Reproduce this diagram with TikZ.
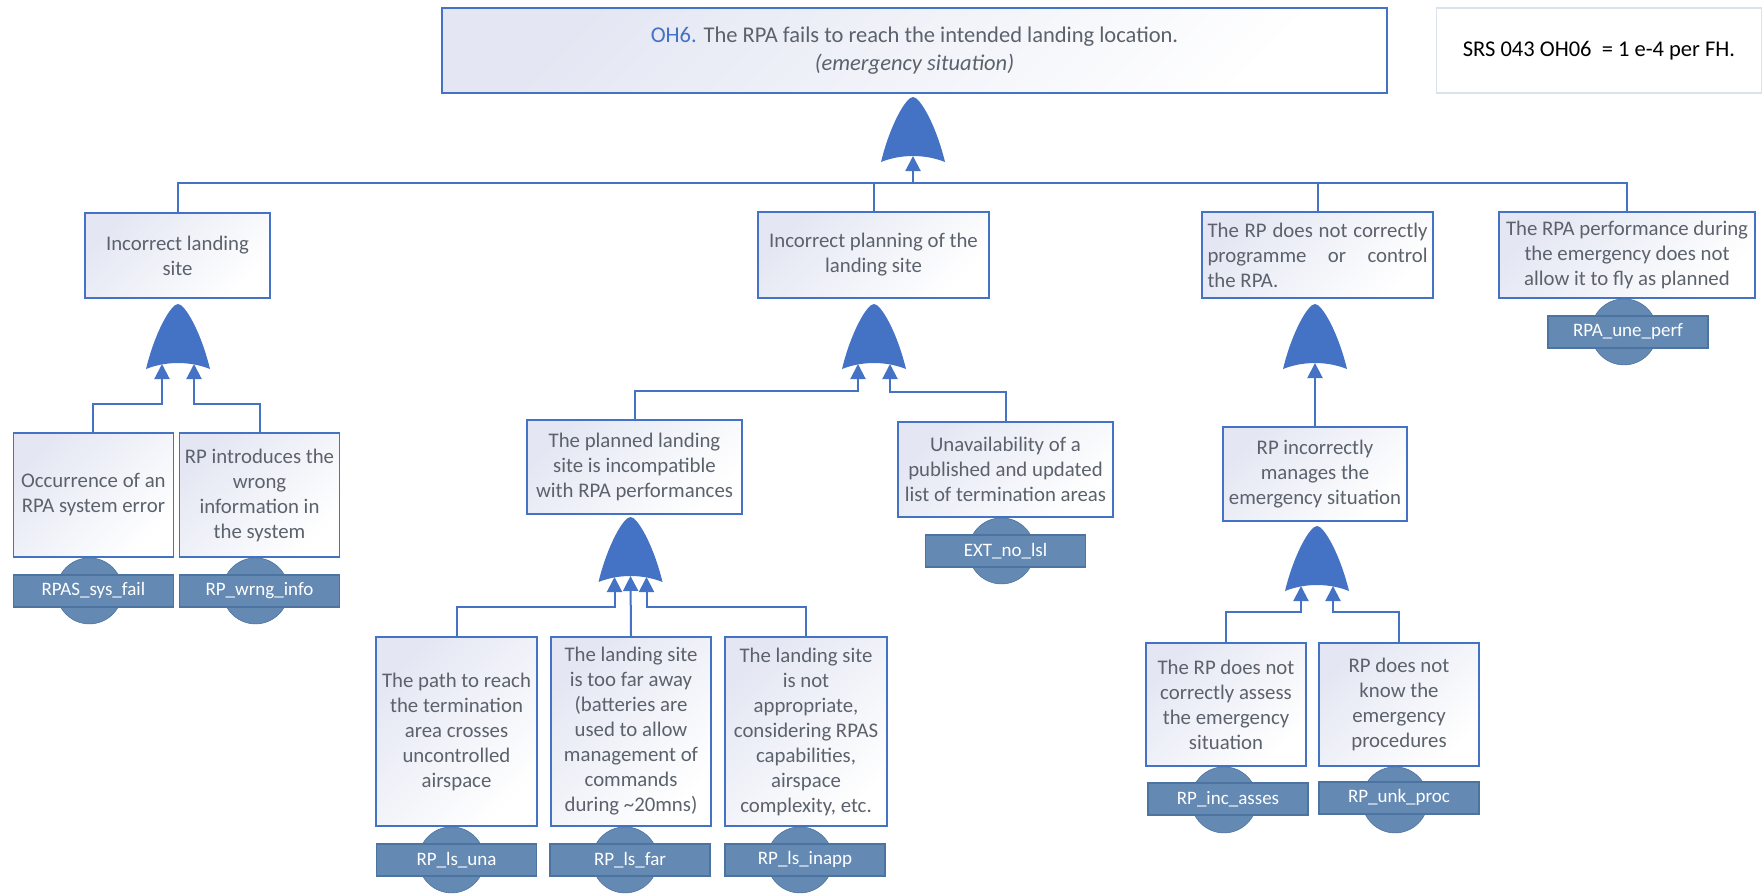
\documentclass[tikz,border=0pt]{standalone}
\usepackage{fontspec}
\setmainfont{Carlito}
\usetikzlibrary{arrows.meta,calc}

\definecolor{linkblue}{HTML}{4472C4}
\definecolor{gateblue}{HTML}{4472C4}
\definecolor{evfill}{HTML}{6489B3}
\definecolor{evline}{HTML}{4D73A0}
\definecolor{txtgray}{HTML}{5B626C}
\definecolor{tint}{HTML}{E4E7F3}
\definecolor{srsline}{HTML}{DCE2EC}

\tikzset{
  fbox/.style={draw=linkblue, line width=1.8pt, top color=tint, bottom color=white,
    shading angle=45, text=txtgray, align=center, inner sep=0pt,
    font=\fontsize{20.8}{25}\selectfont},
  wire/.style={draw=linkblue, line width=2pt},
  feed/.style={wire, -{Triangle[length=15pt,width=15pt]}},
  evcirc/.style={circle, fill=evfill, draw=evline, line width=0.6pt,
    minimum size=66pt, inner sep=0pt},
  evrect/.style={rectangle, fill=evfill, draw=evline, line width=1.2pt,
    minimum width=160pt, minimum height=32pt, inner sep=0pt, text=white,
    font=\fontsize{19}{21}\selectfont},
  orgate/.pic={
    \fill[gateblue] (-32,65) .. controls (-23,28) and (-7,0) .. (0,0)
      .. controls (7,0) and (23,28) .. (32,65)
      .. controls (12,57) and (-12,57) .. cycle;
    \coordinate (-l) at (-16,60);
    \coordinate (-c) at (0,59);
    \coordinate (-r) at (16,60);
  }
}

\begin{document}
\begin{tikzpicture}[x=1pt, y=-1pt]
\useasboundingbox (0,0) rectangle (1762,894);
\fill[white] (0,0) rectangle (1762,894);

% top event and requirement
\node[fbox, minimum width=945pt, minimum height=85pt,
  font=\fontsize{22.5}{28}\selectfont] (top) at (914.5,50.5)
  {{\color{linkblue}OH6.} The RPA fails to reach the intended landing location.\\
   \textit{(emergency situation)}};
\node[draw=srsline, line width=1.2pt, fill=white, minimum width=325pt,
  minimum height=85pt, inner sep=0pt, text=black,
  font=\fontsize{22.5}{27}\selectfont] (srs) at (1599,50.5)
  {SRS 043 OH06\ \ = 1 e-4 per FH.};

% gates
\pic (g0) at (913,97) {orgate};
\pic (gA) at (178,304) {orgate};
\pic (gB) at (874,304) {orgate};
\pic (gC) at (1315,304) {orgate};
\pic (gB2) at (630.5,517) {orgate};
\pic (gD) at (1317,526) {orgate};

% second level
\node[fbox, minimum width=185pt, minimum height=85pt] (isite) at (177.5,255.5)
  {Incorrect landing\\site};
\node[fbox, minimum width=231pt, minimum height=86pt] (iplan) at (873.5,255)
  {Incorrect planning of the\\landing site};
\node[fbox, minimum width=231pt, minimum height=86pt, align=left] (rpctl) at (1317.5,255)
  {\makebox[220pt][s]{The RP does not correctly}\\
   \makebox[220pt][s]{programme or control}\\
   the RPA.};
\node[fbox, minimum width=256pt, minimum height=86pt] (rpaperf) at (1627,255)
  {The RPA performance during\\the emergency does not\\allow it to fly as planned};

% third level
\node[fbox, minimum width=160pt, minimum height=124pt] (occ) at (93.4,495)
  {Occurrence of an\\RPA system error};
\node[fbox, minimum width=160pt, minimum height=124pt] (rpintro) at (259.5,495)
  {RP introduces the\\wrong\\information in\\the system};
\node[fbox, minimum width=215pt, minimum height=94pt] (planned) at (634.5,467)
  {The planned landing\\site is incompatible\\with RPA performances};
\node[fbox, minimum width=215pt, minimum height=95pt] (unavail) at (1005.5,469.5)
  {Unavailability of a\\published and updated\\list of termination areas};
\node[fbox, minimum width=184pt, minimum height=94pt] (rpinc) at (1315,474)
  {RP incorrectly\\manages the\\emergency situation};

% fourth level
\node[fbox, minimum width=161pt, minimum height=189pt] (path) at (456.5,731.5)
  {The path to reach\\the termination\\area crosses\\uncontrolled\\airspace};
\node[fbox, minimum width=160pt, minimum height=189pt] (far) at (631,731.5)
  {The landing site\\is too far away\\(batteries are\\used to allow\\management of\\commands\\during \textasciitilde20mns)};
\node[fbox, minimum width=162pt, minimum height=189pt] (inapp) at (806,731.5)
  {The landing site\\is not\\appropriate,\\considering RPAS\\capabilities,\\airspace\\complexity, etc.};
\node[fbox, minimum width=160pt, minimum height=123pt] (assess) at (1226,704.5)
  {The RP does not\\correctly assess\\the emergency\\situation};
\node[fbox, minimum width=160pt, minimum height=123pt] (know) at (1399,704.5)
  {RP does not\\know the\\emergency\\procedures};

% basic events
\node[evcirc] (c1) at ($(occ.south)+(-4,33)$) {};
\node[evrect] (e1) at ($(occ.south)+(0,33)$) {RPAS\_sys\_fail};
\node[evcirc] (c2) at ($(rpintro.south)+(-4,33)$) {};
\node[evrect] (e2) at ($(rpintro.south)+(0,33)$) {RP\_wrng\_info};
\node[evcirc] (c3) at ($(unavail.south)+(-4,33)$) {};
\node[evrect] (e3) at ($(unavail.south)+(0,33)$) {EXT\_no\_lsl};
\node[evcirc] (c4) at ($(path.south)+(-5,33)$) {};
\node[evrect] (e4) at ($(path.south)+(0,33)$) {RP\_ls\_una};
\node[evcirc] (c5) at ($(far.south)+(-6,33)$) {};
\node[evrect] (e5) at ($(far.south)+(-1,33)$) {RP\_ls\_far};
\node[evcirc] (c6) at ($(inapp.south)+(-6,33)$) {};
\node[evrect] (e6) at ($(inapp.south)+(-1,33)$) {RP\_ls\_inapp};
\node[evcirc] (c7) at ($(assess.south)+(-2,33)$) {};
\node[evrect] (e7) at ($(assess.south)+(2,32)$) {RP\_inc\_asses};
\node[evcirc] (c8) at ($(know.south)+(-4,33)$) {};
\node[evrect] (e8) at ($(know.south)+(0,31)$) {RP\_unk\_proc};
\node[evcirc] (c9) at ($(rpaperf.south)+(-3,33)$) {};
\node[evrect] (e9) at ($(rpaperf.south)+(1,33)$) {RPA\_une\_perf};

% connectors
\coordinate (bus) at (0,183);
\draw[wire] (isite.north) |- (bus -| rpaperf.north) -- (rpaperf.north);
\draw[wire] (iplan.north) -- (iplan.north |- bus);
\draw[wire] (rpctl.north) -- (rpctl.north |- bus);
\draw[feed] (g0-c |- bus) -- (g0-c);

\draw[feed] (occ.north) -- ++(0,-28) -| (gA-l);
\draw[feed] (rpintro.north) -- ++(0,-28) -| (gA-r);

\draw[feed] (planned.north) -- ++(0,-28) -| (gB-l);
\draw[feed] (unavail.north) -- ++(0,-29) -| (gB-r);

\draw[feed] (rpinc.north) -- (gC-c);

\draw[feed] (path.north) -- ++(0,-29) -| (gB2-l);
\draw[feed] (far.north) -- (gB2-c);
\draw[feed] (inapp.north) -- ++(0,-29) -| (gB2-r);

\draw[feed] (assess.north) -- ++(0,-30) -| (gD-l);
\draw[feed] (know.north) -- ++(0,-30) -| (gD-r);
\end{tikzpicture}
\end{document}
